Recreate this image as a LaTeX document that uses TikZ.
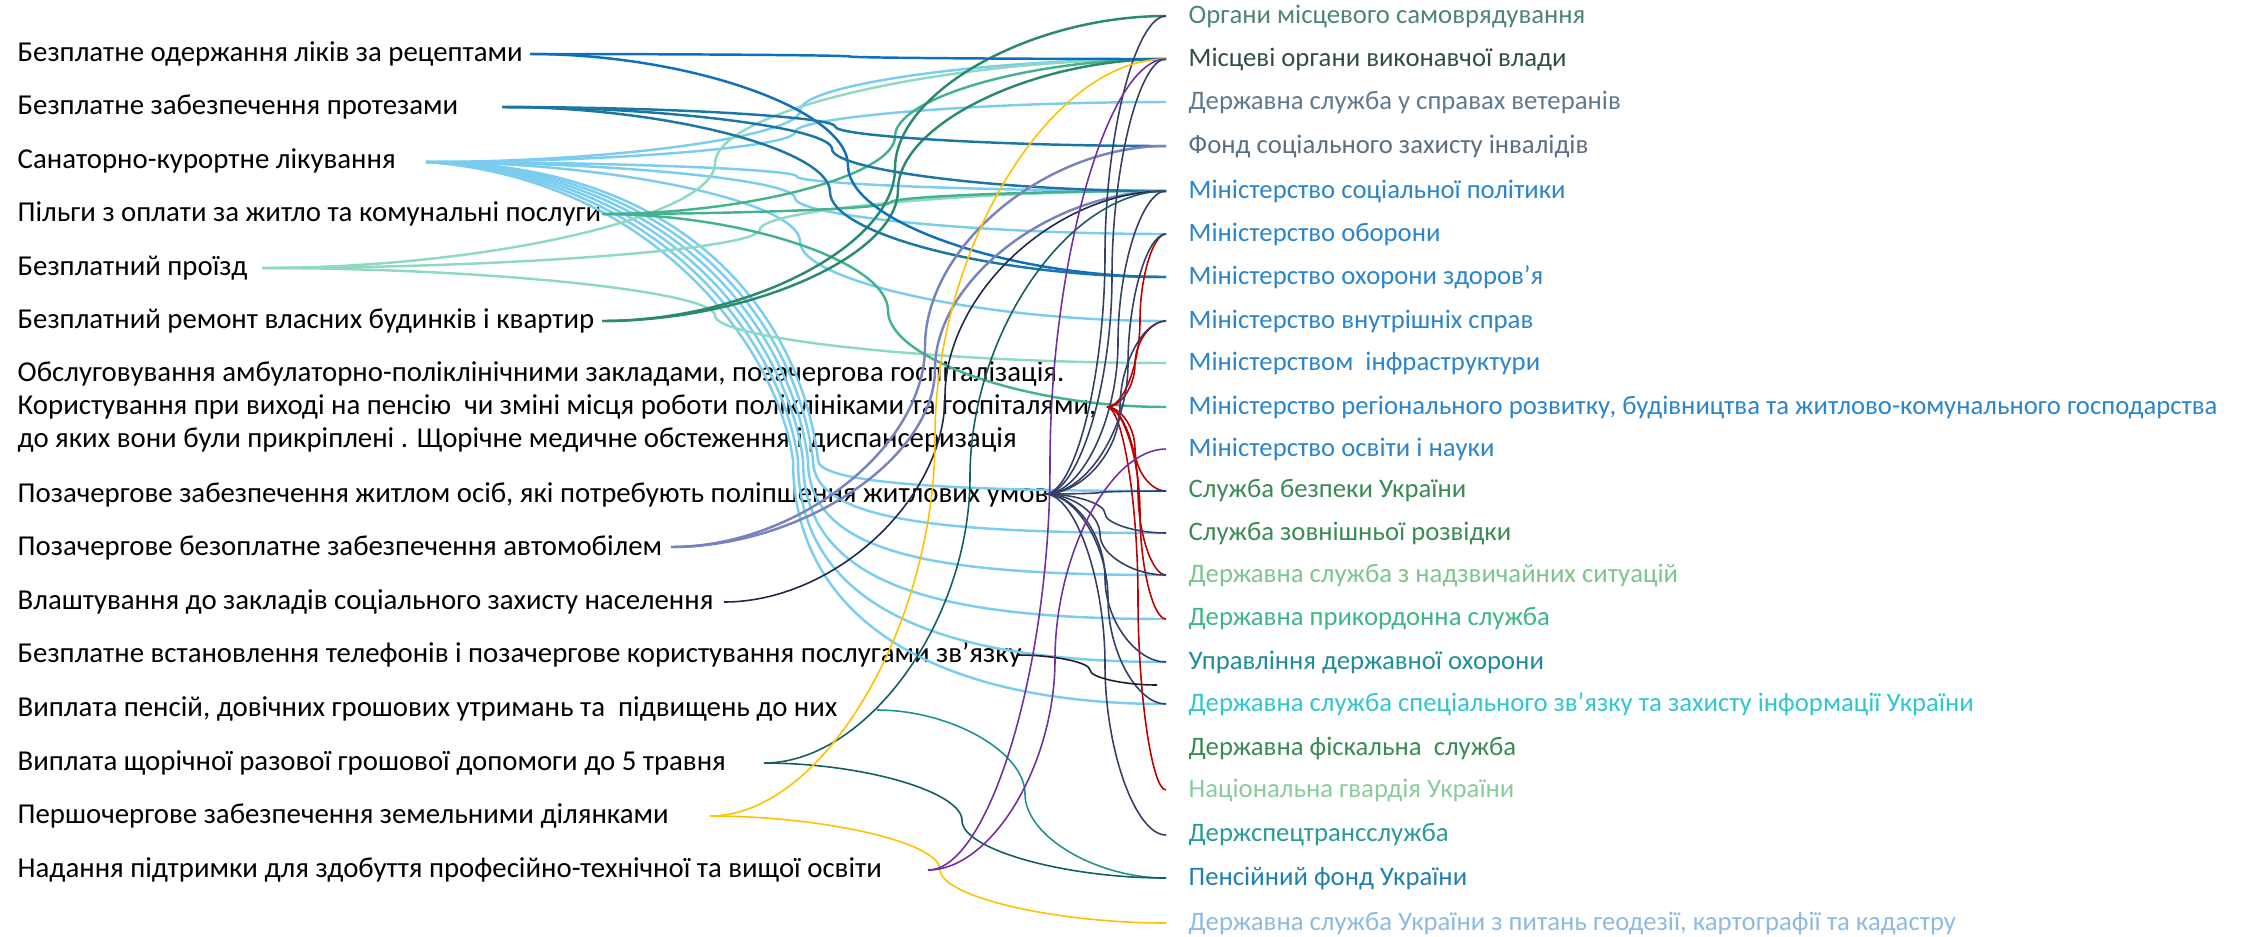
\documentclass[tikz,border=0pt]{standalone}
\usepackage{fontspec}
\setmainfont{Carlito}
\usetikzlibrary{calc}

% text colours (right column)
\definecolor{tOrg}{HTML}{4E8378}
\definecolor{tMis}{HTML}{2F4D49}
\definecolor{tVet}{HTML}{5E7A90}
\definecolor{tFond}{HTML}{5A6E80}
\definecolor{tMin}{HTML}{2B84CC}
\definecolor{tSl}{HTML}{3A8A55}
\definecolor{tDsns}{HTML}{7DC48E}
\definecolor{tPrik}{HTML}{3DB585}
\definecolor{tUdo}{HTML}{1F8C9C}
\definecolor{tZv}{HTML}{30C6CF}
\definecolor{tNg}{HTML}{8ACB9A}
\definecolor{tSpec}{HTML}{2A9A96}
\definecolor{tPf}{HTML}{1F80B0}
\definecolor{tGeo}{HTML}{8DB9E3}
% line colours
\definecolor{lLiky}{HTML}{0F6FBF}
\definecolor{lProt}{HTML}{1C76A3}
\definecolor{lSan}{HTML}{7ACDEE}
\definecolor{lPilg}{HTML}{44B38D}
\definecolor{lProizd}{HTML}{8FD9C2}
\definecolor{lRem}{HTML}{2A8A6C}
\definecolor{lRed}{HTML}{C00000}
\definecolor{lNavy}{HTML}{333F66}
\definecolor{lAvto}{HTML}{7882BE}
\definecolor{lVlasht}{HTML}{1E2947}
\definecolor{lTel}{HTML}{1B1E2B}
\definecolor{lPens}{HTML}{1D9393}
\definecolor{lTrav}{HTML}{135E5E}
\definecolor{lZem}{HTML}{FFC000}
\definecolor{lOsv}{HTML}{7030A0}

\begin{document}
\begin{tikzpicture}[x=0.1mm, y=-0.1mm,
    lt/.style={anchor=west, inner sep=0pt, align=left,
        font=\fontsize{8.2}{9.39}\selectfont},
    rt/.style={anchor=west, inner sep=0pt, font=\fontsize{7.6}{9}\selectfont},
    thk/.style={line width=0.7pt},
    thn/.style={line width=0.45pt},
    % curved connector: horizontal ends, vertical at x = #1
    link/.style={to path={let \p1=(\tikztostart), \p2=(\tikztotarget), \p3=(#1,0) in
        .. controls ({0.5*\x1+0.5*\x3},\y1) and (\x3,{0.75*\y1+0.25*\y2})
        .. (\x3,{0.5*\y1+0.5*\y2})
        .. controls (\x3,{0.25*\y1+0.75*\y2}) and ({0.5*\x3+0.5*\x2},\y2)
        .. (\tikztotarget) \tikztonodes}}]
    \useasboundingbox (0,0) rectangle (2248,936);

    % Left column
    \foreach \y/\txt [count=\i] in {
        54/{Безплатне одержання ліків за рецептами},
        107/{Безплатне забезпечення протезами},
        161/{Санаторно-курортне лікування},
        214/{Пільги з оплати за житло та комунальні послуги},
        268/{Безплатний проїзд},
        321/{Безплатний ремонт власних будинків і квартир},
        407/{Обслуговування амбулаторно-поліклінічними закладами, позачергова госпіталізація.\\
             Користування при виході на пенсію\ \ чи зміні місця роботи поліклініками та госпіталями,\\
             до яких вони були прикріплені . Щорічне медичне обстеження і диспансеризація},
        495/{Позачергове забезпечення житлом осіб, які потребують поліпшення житлових умов},
        548/{Позачергове безоплатне забезпечення автомобілем},
        602/{Влаштування до закладів соціального захисту населення},
        655/{Безплатне встановлення телефонів і позачергове користування послугами зв’язку},
        709/{Виплата пенсій, довічних грошових утримань та\ \ підвищень до них},
        763/{Виплата щорічної разової грошової допомоги до 5 травня},
        816/{Першочергове забезпечення земельними ділянками},
        870/{Надання підтримки для здобуття професійно-технічної та вищої освіти}}
        \node[lt] (l\i) at (17,\y) {\txt};

    % Right column
    \foreach \y/\txt/\col [count=\i] in {
        16/{Органи місцевого самоврядування}/tOrg,
        59/{Місцеві органи виконавчої влади}/tMis,
        102/{Державна служба у справах ветеранів}/tVet,
        146/{Фонд соціального захисту інвалідів}/tFond,
        191/{Міністерство соціальної політики}/tMin,
        234/{Міністерство оборони}/tMin,
        277/{Міністерство охорони здоров’я}/tMin,
        321/{Міністерство внутрішніх справ}/tMin,
        363/{Міністерством\ \ інфраструктури}/tMin,
        407/{Міністерство регіонального розвитку, будівництва та житлово-комунального господарства}/tMin,
        449/{Міністерство освіти і науки}/tMin,
        491/{Служба безпеки України}/tSl,
        533/{Служба зовнішньої розвідки}/tSl,
        575/{Державна служба з надзвичайних ситуацій}/tDsns,
        619/{Державна прикордонна служба}/tPrik,
        662/{Управління державної охорони}/tUdo,
        704/{Державна служба спеціального зв’язку та захисту інформації України}/tZv,
        748/{Державна фіскальна\ \ служба}/tSl,
        790/{Національна гвардія України}/tNg,
        835/{Держспецтрансслужба}/tSpec,
        878/{Пенсійний фонд України}/tPf,
        923/{Державна служба України з питань геодезії, картографії та кадастру}/tGeo}
    {
        \node[rt, text=\col] (o\i) at (1188,\y) {\txt};
        \coordinate (r\i) at (1166,\y);
    }

    % Fan-out points
    \coordinate (h1) at (530,54);
    \coordinate (h2) at (502,107);
    \coordinate (h3) at (426,162);
    \coordinate (h4) at (602,214);
    \coordinate (h5) at (262,268);
    \coordinate (h6) at (602,321);
    \coordinate (h7) at (1107,407);
    \coordinate (h8) at (1045,494);
    \coordinate (h9) at (671,547);
    \coordinate (h10) at (724,602);
    \coordinate (h11) at (1018,655);
    \coordinate (h12) at (877,710);
    \coordinate (h13) at (764,763);
    \coordinate (h14) at (710,816);
    \coordinate (h15) at (928,870);
    \coordinate (tel) at (1157,685);

    % Sanatorium
    \foreach \j/\m in {2/800, 3/795, 5/797, 6/795, 8/800}
        \draw[thk, lSan] (h3) to[link=\m] (r\j);
    \foreach \j/\m/\c/\k in {12/818/482/0, 13/813/520/1, 14/808/555/2, 15/803/585/3, 16/798/605/4, 17/793/620/5}
        \draw[thk, lSan] (h3) .. controls ({700-9*\k},{163+3*\k}) and ({\m-15},{330+4*\k}) .. (\m,460)
            .. controls (\m,\c) and ($(r\j)+(-230,0)$) .. (r\j);
    % Transport, utilities, repairs
    \foreach \j/\m in {2/715, 5/760, 9/715}
        \draw[thk, lProizd] (h5) to[link=\m] (r\j);
    \foreach \j/\m in {2/895, 5/890, 10/888}
        \draw[thk, lPilg] (h4) to[link=\m] (r\j);
    \foreach \j/\m in {1/895, 2/898}
        \draw[thk, lRem] (h6) to[link=\m] (r\j);
    % Medicines, prostheses
    \foreach \j/\m in {2/850, 7/848}
        \draw[thk, lLiky] (h1) to[link=\m] (r\j);
    \foreach \j/\m in {4/835, 5/832, 7/830}
        \draw[thk, lProt] (h2) to[link=\m] (r\j);
    % Car, social care
    \foreach \j/\m in {4/925, 5/935}
        \draw[thk, lAvto] (h9) to[link=\m] (r\j);
    \draw[thn, lVlasht] (h10) to[link=945] (r5);
    % Medical service (red)
    \foreach \j/\m in {6/1140, 8/1135, 12/1135, 14/1138, 15/1140, 19/1138}
        \draw[thn, lRed] (h7) to[link=\m] (r\j);
    % Housing (navy)
    \foreach \j/\m in {1/1105, 2/1112, 5/1118, 6/1128, 8/1120, 12/1100, 13/1105, 14/1100, 16/1105, 17/1108, 20/1105}
        \draw[thn, lNavy] (h8) to[link=\m] (r\j);
    % Telephone
    \draw[thn, lTel] (h11) to[link=1090] (tel);
    % Pensions, 9 May aid
    \draw[thn, lPens] (h12) to[link=1025] (r21);
    \foreach \j/\m in {5/970, 21/962}
        \draw[thn, lTrav] (h13) to[link=\m] (r\j);
    % Land plots
    \foreach \j/\m in {2/935, 22/940}
        \draw[thn, lZem] (h14) to[link=\m] (r\j);
    % Education
    \foreach \j/\m in {2/1050, 11/1055}
        \draw[thn, lOsv] (h15) to[link=\m] (r\j);
\end{tikzpicture}
\end{document}
